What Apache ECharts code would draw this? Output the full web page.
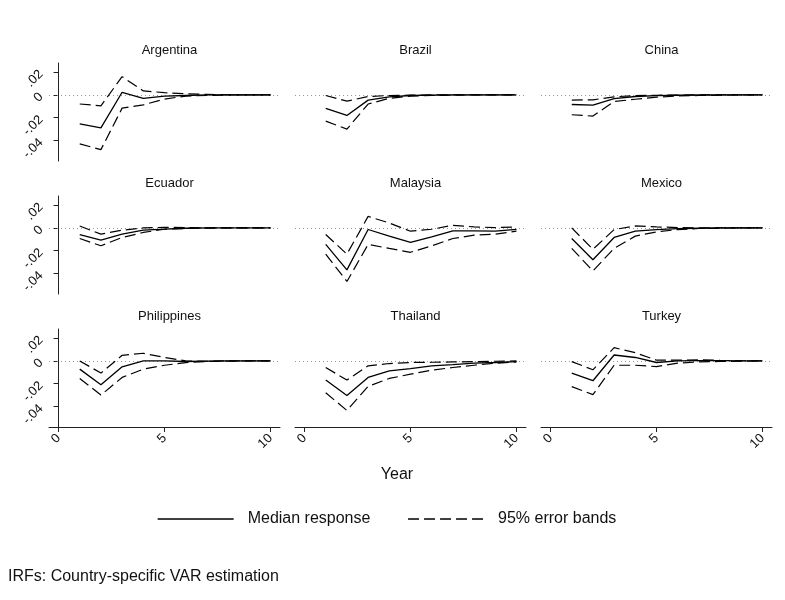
<!DOCTYPE html>
<html>
<head>
<meta charset="utf-8">
<script src="https://cdn.jsdelivr.net/npm/echarts@6/dist/echarts.min.js"></script>
<style>
  html, body { margin: 0; padding: 0; background: #fff; }
  #chart { width: 785px; height: 600px; }
</style>
</head>
<body>
<div id="chart"></div>
<script>
// horizons
const years = [1, 2, 3, 4, 5, 6, 7, 8, 9, 10];
const countries = ["Argentina", "Brazil", "China", "Ecuador", "Malaysia", "Mexico", "Philippines", "Thailand", "Turkey"];
const yTicks = [-0.04, -0.02, 0, 0.02];
const xTicks = [0, 5, 10];

const argMed = [-0.0255, -0.029, 0.0023, -0.003, -0.001, -0.0005, 0, 0, 0, 0];
const argUp  = [-0.008, -0.0096, 0.016, 0.0035, 0.002, 0.001, 0.0005, 0, 0, 0];
const argLo  = [-0.043, -0.048, -0.0116, -0.0087, -0.0037, -0.001, -0.0005, 0, 0, 0];

const braMed = [-0.0118, -0.018, -0.0046, -0.0017, -0.0005, -0.0002, 0, 0, 0, 0];
const braUp  = [-0.0005, -0.0055, -0.0014, -0.0005, -0.0002, 0, 0, 0, 0, 0];
const braLo  = [-0.023, -0.030, -0.008, -0.003, -0.001, -0.0004, -0.0002, 0, 0, 0];

const chnMed = [-0.0084, -0.009, -0.0032, -0.0014, -0.0006, -0.0003, -0.0001, 0, 0, 0];
const chnUp  = [-0.0046, -0.0043, -0.0017, -0.0006, -0.0003, -0.0001, 0, 0, 0, 0];
const chnLo  = [-0.0174, -0.0186, -0.0058, -0.0038, -0.002, -0.001, -0.0005, -0.0002, 0, 0];

const ecuMed = [-0.006, -0.0107, -0.0055, -0.002, -0.001, -0.0003, 0, 0, 0, 0];
const ecuUp  = [0.0017, -0.0055, -0.002, 0, 0.0005, 0.0003, 0, 0, 0, 0];
const ecuLo  = [-0.0093, -0.0157, -0.0084, -0.004, -0.0012, -0.0005, -0.0002, 0, 0, 0];

const malMed = [-0.0145, -0.0368, -0.0014, -0.0072, -0.0128, -0.0078, -0.0026, -0.0026, -0.0029, -0.0012];
const malUp  = [-0.0058, -0.023, 0.0101, 0.0043, -0.0029, -0.0012, 0.0023, 0.0009, 0.0003, 0.0009];
const malLo  = [-0.023, -0.047, -0.0145, -0.018, -0.0214, -0.0157, -0.0093, -0.0064, -0.0055, -0.0029];

const mexMed = [-0.0093, -0.028, -0.0084, -0.0029, -0.0015, -0.0007, -0.0003, 0, 0, 0];
const mexUp  = [0, -0.0188, -0.0015, 0.0017, 0.0009, 0.0003, 0, 0, 0, 0];
const mexLo  = [-0.018, -0.0377, -0.018, -0.0072, -0.0035, -0.0015, -0.0005, -0.0002, 0, 0];

const phlMed = [-0.0072, -0.021, -0.0052, 0, 0, -0.0005, -0.0002, 0, 0, 0];
const phlUp  = [0, -0.0107, 0.0049, 0.0067, 0.003, 0, -0.0003, 0, 0, 0];
const phlLo  = [-0.0154, -0.030, -0.0145, -0.0072, -0.0038, -0.0015, -0.0005, -0.0002, 0, 0];

const thaMed = [-0.0168, -0.0304, -0.0145, -0.0087, -0.0067, -0.0043, -0.0032, -0.002, -0.0014, -0.0006];
const thaUp  = [-0.0058, -0.0168, -0.0043, -0.0023, -0.0014, -0.0012, -0.0009, -0.0006, -0.0003, 0];
const thaLo  = [-0.028, -0.0435, -0.0223, -0.0154, -0.0116, -0.0081, -0.0058, -0.0038, -0.002, -0.0009];

const turMed = [-0.0107, -0.0174, 0.0052, 0.003, -0.0014, 0, 0.0003, 0.0002, 0, 0];
const turUp  = [-0.0006, -0.0078, 0.0116, 0.0072, 0.0006, 0.0006, 0.0009, 0.0005, 0.0002, 0];
const turLo  = [-0.0226, -0.0296, -0.0038, -0.0038, -0.005, -0.002, -0.0009, -0.0005, -0.0002, 0];

const medians = [argMed, braMed, chnMed, ecuMed, malMed, mexMed, phlMed, thaMed, turMed];
const uppers  = [argUp, braUp, chnUp, ecuUp, malUp, mexUp, phlUp, thaUp, turUp];
const lowers  = [argLo, braLo, chnLo, ecuLo, malLo, mexLo, phlLo, thaLo, turLo];

const FONT = "'Liberation Sans', Arial, Helvetica, sans-serif";
const colLeft = [49, 295, 541];
const rowTop = [63, 196, 329];
const gw = 231, gh = 98;
const DASH = [11, 5];

const pairs = arr => years.map((y, i) => [y, arr[i]]);
const fmtY = v => v === 0 ? "0" : (v < 0 ? "-" : "") + Math.abs(v).toFixed(2).replace(/^0/, "");

let grid = [], xAxis = [], yAxis = [], series = [], titles = [];

countries.forEach((name, i) => {
  let row = Math.floor(i / 3), col = i % 3;
  grid.push({ left: colLeft[col], top: rowTop[row], width: gw, height: gh });
  titles.push({
    text: name,
    left: colLeft[col] + gw / 2,
    top: rowTop[row] - 24,
    textAlign: "center",
    textStyle: { fontFamily: FONT, fontSize: 13, fontWeight: "normal", color: "#111" }
  });
  let bottom = row === 2;
  xAxis.push({
    gridIndex: i,
    type: "value",
    min: -0.45,
    max: 10.45,
    splitLine: { show: false },
    axisLine: { show: bottom, onZero: false, lineStyle: { color: "#222", width: 1 } },
    axisTick: { show: bottom, customValues: xTicks, length: 5, lineStyle: { color: "#222" } },
    axisLabel: {
      show: bottom, customValues: xTicks, rotate: 45,
      fontFamily: FONT, fontSize: 13, color: "#111", margin: 9
    }
  });
  let left = col === 0;
  yAxis.push({
    gridIndex: i,
    type: "value",
    min: -0.058,
    max: 0.028,
    splitLine: { show: false },
    axisLine: { show: left, lineStyle: { color: "#222", width: 1 } },
    axisTick: { show: left, customValues: yTicks, length: 5, lineStyle: { color: "#222" } },
    axisLabel: {
      show: left, customValues: yTicks, rotate: 45, formatter: fmtY,
      fontFamily: FONT, fontSize: 13, color: "#111", margin: 8
    }
  });
  const base = {
    type: "line",
    xAxisIndex: i,
    yAxisIndex: i,
    symbol: "none",
    silent: true,
    itemStyle: { color: "#000" },
    z: 3
  };
  series.push(Object.assign({}, base, {
    name: "95% error bands",
    data: pairs(uppers[i]),
    lineStyle: { color: "#000", width: 1.2, type: DASH }
  }));
  series.push(Object.assign({}, base, {
    name: "95% error bands",
    data: pairs(lowers[i]),
    lineStyle: { color: "#000", width: 1.2, type: DASH }
  }));
  series.push(Object.assign({}, base, {
    name: "Median response",
    data: pairs(medians[i]),
    lineStyle: { color: "#000", width: 1.3, type: "solid" },
    markLine: {
      silent: true,
      symbol: "none",
      label: { show: false },
      lineStyle: { color: "#999", width: 1, type: [1, 3] },
      data: [{ yAxis: 0 }],
      z: 1
    }
  }));
});

titles.push({
  text: "Year",
  left: 392,
  top: 462,
  textAlign: "center",
  textStyle: { fontFamily: FONT, fontSize: 16, fontWeight: "normal", color: "#111" }
});
titles.push({
  text: "IRFs: Country-specific VAR estimation",
  left: 3,
  top: 564,
  textStyle: { fontFamily: FONT, fontSize: 16, fontWeight: "normal", color: "#111" }
});

const chart = echarts.init(document.getElementById("chart"));
chart.setOption({
  animation: false,
  backgroundColor: "#fff",
  title: titles,
  legend: {
    data: ["Median response", "95% error bands"],
    left: 152,
    top: 506,
    itemWidth: 76,
    itemHeight: 14,
    itemGap: 37,
    itemStyle: { opacity: 0 },
    lineStyle: { width: 1.3 },
    textStyle: { fontFamily: FONT, fontSize: 16, color: "#111", padding: [0, 0, 0, 9] }
  },
  grid: grid,
  xAxis: xAxis,
  yAxis: yAxis,
  series: series
});
</script>
</body>
</html>
